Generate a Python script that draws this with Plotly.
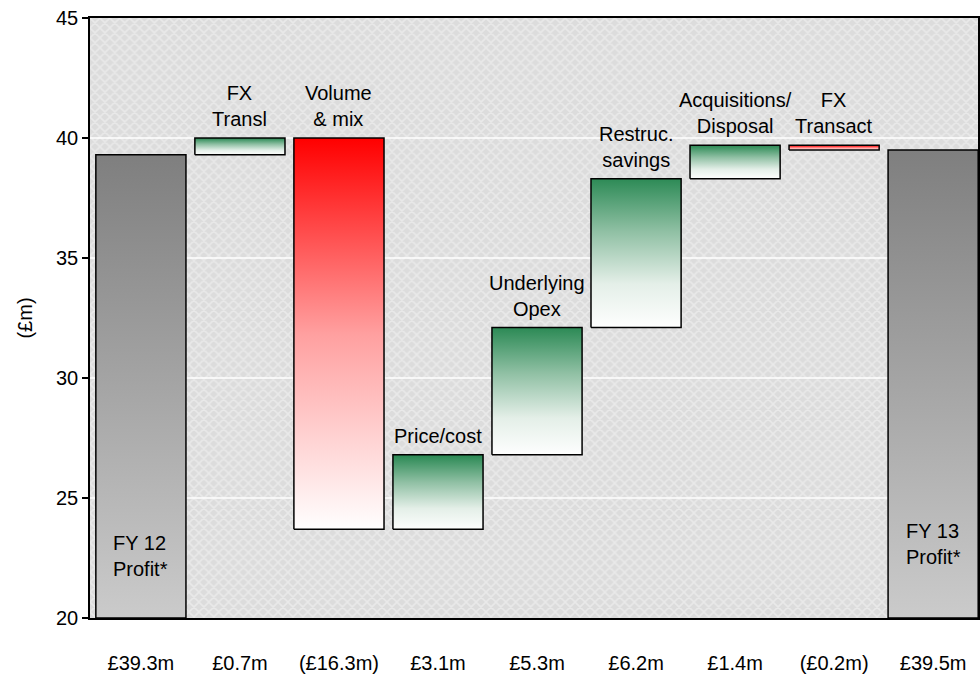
import plotly.graph_objects as go

# ---------------- data ----------------
categories = ["FY 12<br>Profit*", "FX<br>Transl", "Volume<br>& mix", "Price/cost",
              "Underlying<br>Opex", "Restruc.<br>savings", "Acquisitions/<br>Disposal",
              "FX<br>Transact", "FY 13<br>Profit*"]
kinds = ["total", "rel", "rel", "rel", "rel", "rel", "rel", "rel", "total"]
values = [39.3, 0.7, -16.3, 3.1, 5.3, 6.2, 1.4, -0.2, 39.5]
tick_labels = ["£39.3m", "£0.7m", "(£16.3m)", "£3.1m", "£5.3m", "£6.2m", "£1.4m", "(£0.2m)", "£39.5m"]

# ---------------- style ----------------
Y_RANGE = [20, 45]
X_RANGE = [-0.514, 8.453]
BAR_HALF = 0.455
FONT = "Liberation Sans, Arial, sans-serif"
FS = 20
GRAY_SCALE = [[0, "#cbcbcb"], [1, "#7f7f7f"]]
GREEN_SCALE = [[0, "#ffffff"], [0.3, "#e4efe8"], [0.65, "#90c0a4"], [1, "#2e8b57"]]
RED_SCALE = [[0, "#ffffff"], [0.5, "#ffa0a0"], [1, "#ff0000"]]
INSIDE_LABEL_Y = {0: 22.6, 8: 23.1}

fig = go.Figure()

# background texture
fig.add_trace(go.Bar(x=[(X_RANGE[0] + X_RANGE[1]) / 2], y=[Y_RANGE[1] - Y_RANGE[0]], base=[Y_RANGE[0]],
                     width=[X_RANGE[1] - X_RANGE[0] + 1],
                     marker=dict(color="#e0e0e0", line=dict(width=0),
                                 pattern=dict(shape="x", fgcolor="#f6f6f6", bgcolor="#dcdcdc",
                                              size=7, solidity=0.4)),
                     hoverinfo="skip", showlegend=False))

# gridlines
for g in range(Y_RANGE[0] + 5, Y_RANGE[1], 5):
    fig.add_trace(go.Scatter(x=[X_RANGE[0] - 1, X_RANGE[1] + 1], y=[g, g], mode="lines",
                             line=dict(color="white", width=1.5),
                             hoverinfo="skip", showlegend=False))

# waterfall bars
running = 0.0
annotations = []
for i, (cat, kind, v) in enumerate(zip(categories, kinds, values)):
    if kind == "total":
        lo, hi = Y_RANGE[0], v
        running = v
        scale = GRAY_SCALE
    else:
        start = running
        running = running + v
        lo, hi = min(start, running), max(start, running)
        scale = GREEN_SCALE if v >= 0 else RED_SCALE
    xs = [i - BAR_HALF, i + BAR_HALF, i + BAR_HALF, i - BAR_HALF, i - BAR_HALF]
    ys = [lo, lo, hi, hi, lo]
    fig.add_trace(go.Scatter(x=xs, y=ys, mode="lines", fill="toself",
                             fillgradient=dict(type="vertical", colorscale=scale, start=lo, stop=hi),
                             line=dict(color="black", width=1.5),
                             hoverinfo="skip", showlegend=False))
    if kind == "total":
        annotations.append(dict(x=i, y=INSIDE_LABEL_Y[i], text=cat, showarrow=False,
                                font=dict(family=FONT, size=FS, color="black"),
                                xanchor="center", yanchor="middle", align="left"))
    else:
        annotations.append(dict(x=i, y=hi, text=cat, showarrow=False,
                                font=dict(family=FONT, size=FS, color="black"),
                                xanchor="center", yanchor="bottom", yshift=6))

fig.update_layout(
    width=980, height=674,
    margin=dict(l=90, r=0, t=18, b=54),
    paper_bgcolor="white", plot_bgcolor="#e0e0e0",
    font=dict(family=FONT, size=FS, color="black"),
    showlegend=False,
    annotations=annotations,
    xaxis=dict(range=X_RANGE, tickvals=list(range(len(tick_labels))), ticktext=tick_labels,
               showgrid=False, zeroline=False, showline=True, linecolor="black", linewidth=1.5,
               mirror=True, ticks="outside", ticklen=26, tickcolor="rgba(0,0,0,0)",
               tickfont=dict(family=FONT, size=FS)),
    yaxis=dict(range=Y_RANGE, dtick=5, showgrid=False, zeroline=False, showline=True,
               linecolor="black", linewidth=1.5, mirror=True, ticks="outside", ticklen=6,
               tickwidth=1.5, tickcolor="black", tickfont=dict(family=FONT, size=FS),
               title=dict(text="(£m)", font=dict(family=FONT, size=FS), standoff=18)),
)

fig.write_html("out.html")
